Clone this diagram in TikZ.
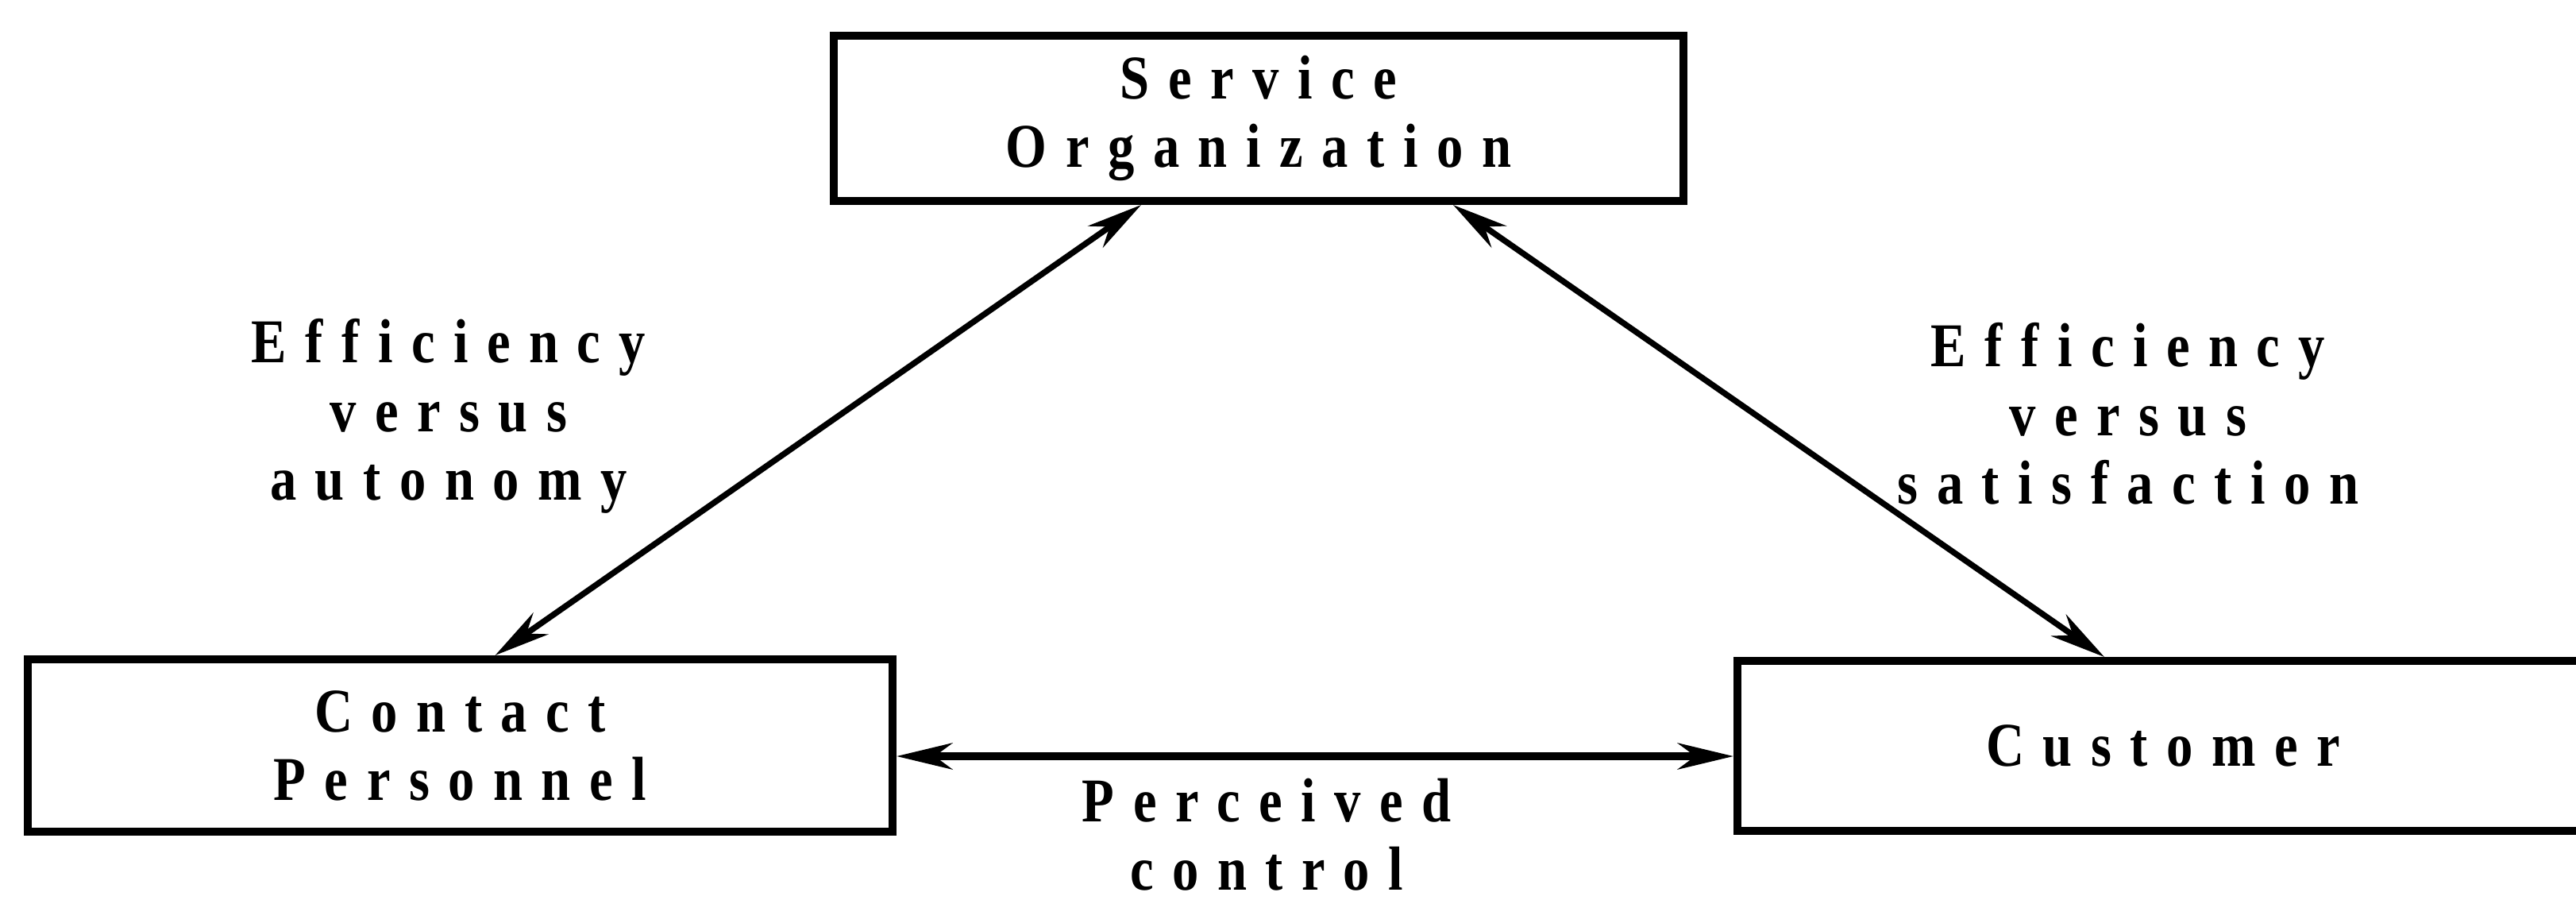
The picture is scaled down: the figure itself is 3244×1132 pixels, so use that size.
\documentclass[tikz,border=0pt]{standalone}
\usepackage{fontspec}
\usetikzlibrary{arrows.meta}
% condensed, widely tracked bold serif used for every label
\newfontfamily\diagfont{Liberation Serif}[FakeStretch=0.85,LetterSpace=30]
\newcommand{\lblfont}{\diagfont\bfseries\fontsize{22.3pt}{24.5pt}\selectfont}

\begin{document}
\begin{tikzpicture}[x=0.1mm,y=-0.1mm,
  box/.style={draw, line width=1mm, align=center, inner sep=0pt, font=\lblfont},
  lbl/.style={align=center, inner sep=0pt, font=\lblfont},
  tipshape/.style={},
  link/.style={line width=0.75mm,
    {Stealth[length=7mm,width=3.3mm,inset=2.2mm]}-{Stealth[length=7mm,width=3.3mm,inset=2.2mm]}},
  hlink/.style={line width=1mm,
    {Stealth[length=7mm,width=3.3mm,inset=2.2mm]}-{Stealth[length=7mm,width=3.3mm,inset=2.2mm]}}
]
\useasboundingbox (0,0) rectangle (3244,1132);

% the three parties
\node[box, minimum width=107mm, minimum height=20.8mm] (so) at (1585,149)
  {Service\\Organization};
\node[box, minimum width=108.9mm, minimum height=21.7mm] (cp) at (579.5,938.5)
  {Contact\\Personnel};
\node[box, minimum width=107.2mm, minimum height=21.4mm] (cu) at (2724,939)
  {Customer};

% relationships between them
\draw[link] ([xshift=-14.8mm]so.south) -- ([xshift=4.4mm]cp.north);
\draw[link] ([xshift=24.5mm]so.south) -- ([xshift=-7.4mm]cu.north);
\draw[hlink] ([yshift=-1.35mm]cp.east) -- ([yshift=-1.3mm]cu.west);

% labels of the relationships
\node[lbl, anchor=north] (la) at (565,401) {Efficiency\\versus\\autonomy};
\node[lbl, anchor=north] (lb) at (2680,406) {Efficiency\\versus\\satisfaction};
\node[lbl, anchor=north] (lc) at (1595,979) {Perceived\\control};
\end{tikzpicture}
\end{document}
